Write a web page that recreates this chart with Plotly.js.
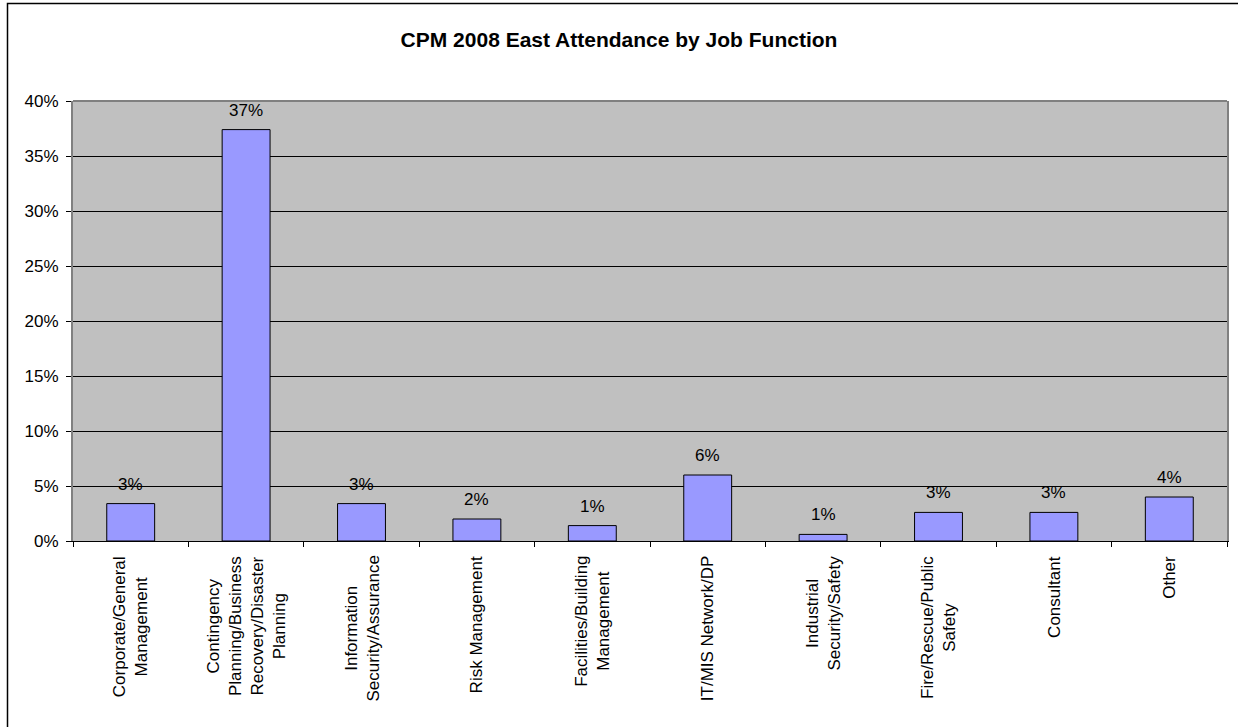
<!DOCTYPE html>
<html>
<head>
<meta charset="utf-8">
<script src="https://cdn.plot.ly/plotly-3.0.1.min.js"></script>
<style>
html,body{margin:0;padding:0;background:#fff;}
#chart{width:1238px;height:727px;}
</style>
</head>
<body>
<div id="chart"></div>
<script>
const categories = [
  "Corporate/General Management",
  "Contingency Planning/Business Recovery/Disaster Planning",
  "Information Security/Assurance",
  "Risk Management",
  "Facilities/Building Management",
  "IT/MIS Network/DP",
  "Industrial Security/Safety",
  "Fire/Rescue/Public Safety",
  "Consultant",
  "Other"
];
const tickLabels = [
  "Corporate/General<br>Management",
  "Contingency<br>Planning/Business<br>Recovery/Disaster<br>Planning",
  "Information<br>Security/Assurance",
  "Risk Management",
  "Facilities/Building<br>Management",
  "IT/MIS Network/DP",
  "Industrial<br>Security/Safety",
  "Fire/Rescue/Public<br>Safety",
  "Consultant",
  "Other"
];
const values = [0.034, 0.374, 0.034, 0.020, 0.014, 0.060, 0.006, 0.026, 0.026, 0.040];
const valueLabels = ["3%", "37%", "3%", "2%", "1%", "6%", "1%", "3%", "3%", "4%"];

const FONT = "Liberation Sans, Arial, sans-serif";

const trace = {
  type: "bar",
  x: categories,
  y: values,
  marker: {color: "#9999FF", line: {color: "#000000", width: 1}},
  hoverinfo: "x+y"
};

const annotations = [];
categories.forEach((c, i) => {
  annotations.push({
    x: c, y: values[i], xref: "x", yref: "y",
    text: valueLabels[i], showarrow: false,
    yanchor: "bottom", xanchor: "center", yshift: 8,
    font: {family: FONT, size: 17, color: "#000"}
  });
  annotations.push({
    x: c, y: 0, xref: "x", yref: "paper",
    text: tickLabels[i], showarrow: false,
    textangle: -90, align: "center",
    yanchor: "top", xanchor: "center", yshift: -13,
    font: {family: FONT, size: 17, color: "#000"}
  });
});

const layout = {
  width: 1238, height: 727,
  margin: {l: 73, r: 11, t: 101, b: 186, pad: 0},
  paper_bgcolor: "#ffffff",
  plot_bgcolor: "#C0C0C0",
  showlegend: false,
  bargap: 0.585,
  title: {
    text: "<b>CPM 2008 East Attendance by Job Function</b>",
    font: {family: FONT, size: 21, color: "#000"},
    x: 0.5, xref: "container", xanchor: "center",
    y: 1 - 40/727, yref: "container", yanchor: "middle"
  },
  xaxis: {
    type: "category",
    showticklabels: false,
    ticks: "outside", ticklen: 5, tickcolor: "#000", tickwidth: 1,
    tickson: "boundaries",
    showgrid: false, zeroline: false,
    showline: true, linecolor: "#000", linewidth: 1
  },
  yaxis: {
    range: [0, 0.4], dtick: 0.05, tick0: 0,
    tickformat: ".0%",
    ticks: "outside", ticklen: 5, tickcolor: "#000", tickwidth: 1,
    ticklabelstandoff: 4,
    tickfont: {family: FONT, size: 17, color: "#000"},
    showgrid: true, gridcolor: "#000", gridwidth: 1,
    zeroline: false,
    showline: true, linecolor: "#808080", linewidth: 2, mirror: true
  },
  annotations: annotations,
  shapes: [
    {type: "line", xref: "paper", yref: "paper", x0: 0, x1: 1, y0: 1, y1: 1,
     line: {color: "#808080", width: 2}},
    {type: "rect", xref: "paper", yref: "paper",
     x0: (7.5 - 73) / 1154, x1: 1.05, y0: -0.6, y1: (541 - 3.5) / 440,
     line: {color: "#000", width: 1.5}, fillcolor: "rgba(0,0,0,0)"}
  ]
};

Plotly.newPlot("chart", [trace], layout, {displayModeBar: false, staticPlot: true});
</script>
</body>
</html>
